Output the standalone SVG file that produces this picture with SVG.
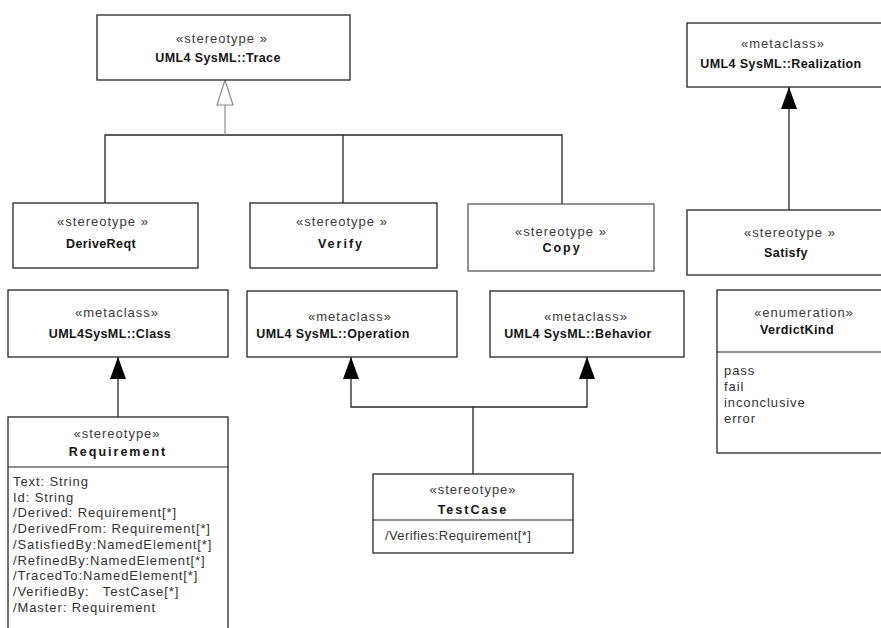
<svg xmlns="http://www.w3.org/2000/svg" width="881" height="628" viewBox="0 0 881 628">
  <style>
    .box { fill: #ffffff; stroke: #262626; stroke-width: 1.3; }
    .box.light { stroke: #5a5a5a; }
    .sep { stroke: #262626; stroke-width: 1.2; }
    .st { font-family: "Liberation Sans", Arial, sans-serif; font-size: 13px; fill: #3a3a3a; letter-spacing: 1px; text-anchor: middle; }
    .nm { font-family: "Liberation Sans", Arial, sans-serif; font-size: 12.5px; font-weight: bold; fill: #141414; letter-spacing: 0.4px; text-anchor: middle; }
    .nm.wide { letter-spacing: 2px; }
    .at { font-family: "Liberation Sans", Arial, sans-serif; font-size: 13px; fill: #333333; letter-spacing: 0.9px; white-space: pre; }
    .conn { fill: none; stroke: #262626; stroke-width: 1.3; }
    .conn.gray { stroke: #9a9a9a; }
  </style>
  <defs>
    <!-- filled head for extension -->
    <marker id="ext" markerUnits="userSpaceOnUse" viewBox="0 0 22 16" refX="22" refY="8" markerWidth="22" markerHeight="16" orient="auto">
      <path d="M0,0 L22,8 L0,16 Z" fill="#000000"/>
    </marker>
    <!-- hollow head for generalization -->
    <marker id="gen" markerUnits="userSpaceOnUse" viewBox="0 0 27 18" refX="26" refY="9" markerWidth="27" markerHeight="18" orient="auto">
      <path d="M1,1 L26,9 L1,17 Z" fill="#ffffff" stroke="#8a8a8a" stroke-width="1.2"/>
    </marker>
  </defs>

  <rect width="881" height="628" fill="#ffffff"/>

  <g id="connectors">
    <!-- Trace specializations -->
    <path class="conn" d="M105,203 V135 H562 V204"/>
    <path class="conn" d="M343,203 V135"/>
    <path class="conn gray" d="M225,135 V80" marker-end="url(#gen)"/>
    <!-- Satisfy to Realization -->
    <path class="conn" d="M789,210 V87" marker-end="url(#ext)"/>
    <!-- Requirement to Class -->
    <path class="conn" d="M118,417 V357" marker-end="url(#ext)"/>
    <!-- TestCase to Operation / Behavior -->
    <path class="conn" d="M473,474 V407 H351 V357" marker-end="url(#ext)"/>
    <path class="conn" d="M473,407 H587 V357" marker-end="url(#ext)"/>
  </g>

  <g id="trace">
    <rect class="box" x="97" y="15" width="253" height="65"/>
    <text class="st" x="222" y="43">«stereotype »</text>
    <text class="nm" x="218" y="62">UML4 SysML::Trace</text>
  </g>

  <g id="realization">
    <rect class="box" x="687" y="23" width="210" height="64"/>
    <text class="st" x="783" y="48">«metaclass»</text>
    <text class="nm" x="781" y="68">UML4 SysML::Realization</text>
  </g>

  <g id="derive-reqt">
    <rect class="box" x="13" y="203" width="185" height="65"/>
    <text class="st" x="103" y="226">«stereotype »</text>
    <text class="nm" x="101" y="248">DeriveReqt</text>
  </g>

  <g id="verify">
    <rect class="box" x="250" y="203" width="187" height="65"/>
    <text class="st" x="342" y="226">«stereotype »</text>
    <text class="nm wide" x="341" y="248">Verify</text>
  </g>

  <g id="copy">
    <rect class="box light" x="468" y="204" width="186" height="67"/>
    <text class="st" x="561" y="236">«stereotype »</text>
    <text class="nm wide" x="562" y="252">Copy</text>
  </g>

  <g id="satisfy">
    <rect class="box" x="687" y="210" width="210" height="65"/>
    <text class="st" x="790" y="237">«stereotype »</text>
    <text class="nm" x="786" y="257">Satisfy</text>
  </g>

  <g id="uml-class">
    <rect class="box" x="8" y="290" width="220" height="67"/>
    <text class="st" x="117" y="317">«metaclass»</text>
    <text class="nm" x="110" y="338">UML4SysML::Class</text>
  </g>

  <g id="uml-operation">
    <rect class="box" x="247" y="291" width="210" height="66"/>
    <text class="st" x="350" y="321">«metaclass»</text>
    <text class="nm" x="333" y="338">UML4 SysML::Operation</text>
  </g>

  <g id="uml-behavior">
    <rect class="box" x="490" y="291" width="194" height="66"/>
    <text class="st" x="586" y="321">«metaclass»</text>
    <text class="nm" x="578" y="338">UML4 SysML::Behavior</text>
  </g>

  <g id="verdict-kind">
    <rect class="box" x="717" y="290" width="180" height="163"/>
    <line class="sep" x1="717" y1="352" x2="897" y2="352"/>
    <text class="st" x="804" y="317">«enumeration»</text>
    <text class="nm" x="797" y="334">VerdictKind</text>
    <text class="at" x="724" y="375">pass</text>
    <text class="at" x="724" y="391">fail</text>
    <text class="at" x="724" y="407">inconclusive</text>
    <text class="at" x="724" y="423">error</text>
  </g>

  <g id="requirement">
    <rect class="box" x="8" y="417" width="220" height="230"/>
    <line class="sep" x1="8" y1="467" x2="228" y2="467"/>
    <text class="st" x="117" y="438">«stereotype»</text>
    <text class="nm wide" x="118" y="456">Requirement</text>
    <text class="at" x="13" y="486">Text: String</text>
    <text class="at" x="13" y="502">Id: String</text>
    <text class="at" x="13" y="517">/Derived: Requirement[*]</text>
    <text class="at" x="13" y="533">/DerivedFrom: Requirement[*]</text>
    <text class="at" x="13" y="549">/SatisfiedBy:NamedElement[*]</text>
    <text class="at" x="13" y="565">/RefinedBy:NamedElement[*]</text>
    <text class="at" x="13" y="580">/TracedTo:NamedElement[*]</text>
    <text class="at" x="13" y="596">/VerifiedBy:   TestCase[*]</text>
    <text class="at" x="13" y="612">/Master: Requirement</text>
  </g>

  <g id="test-case">
    <rect class="box" x="373" y="474" width="200" height="79"/>
    <line class="sep" x1="373" y1="520" x2="573" y2="520"/>
    <text class="st" x="473" y="494">«stereotype»</text>
    <text class="nm wide" x="473" y="514">TestCase</text>
    <text class="at" x="385" y="540" style="letter-spacing:0.4px">/Verifies:Requirement[*]</text>
  </g>
</svg>
